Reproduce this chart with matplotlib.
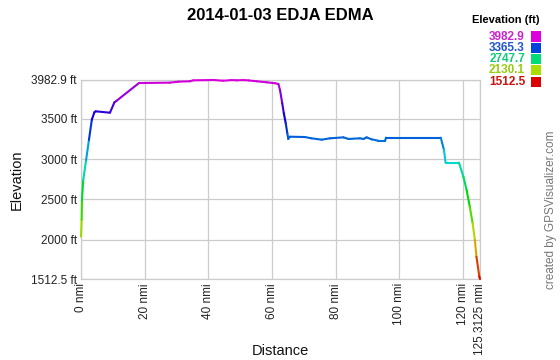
import matplotlib
matplotlib.use("Agg")
import matplotlib.pyplot as plt
import numpy as np
from matplotlib.collections import LineCollection
from matplotlib.colors import LinearSegmentedColormap, Normalize, hsv_to_rgb

plt.rcParams['font.family'] = ['Liberation Sans', 'DejaVu Sans']

title = "2014-01-03 EDJA EDMA"
dist_nmi = [0, 0.2, 0.3, 0.7, 1.6, 2.5, 3.4, 4.2, 4.6, 9.1, 10.5, 11.2, 18.2, 27.9,
            30.6, 34.2, 35.3, 41.6, 44.7, 47.3, 48.9, 51.0, 52.6, 55.2, 58.4, 61.0,
            62.0, 62.5, 63.2, 63.7, 64.3, 64.8, 65.1, 65.6, 70.3, 72.4, 75.6, 78.2,
            82.4, 84.0, 87.6, 88.7, 89.7, 91.3, 93.4, 95.5, 95.8, 113.0, 114.0, 114.5,
            118.7, 120.1, 121.1, 122.1, 123.0, 123.7, 124.2, 125.1, 125.3125]
elev_ft = [2040, 2250, 2490, 2740, 2990, 3240, 3490, 3582, 3594, 3577, 3706, 3726,
           3945, 3950, 3962, 3967, 3979, 3982.9, 3974, 3982, 3979, 3982, 3978, 3967,
           3954, 3942, 3933, 3859, 3694, 3570, 3446, 3321, 3251, 3279, 3275, 3259,
           3242, 3259, 3271, 3251, 3259, 3251, 3271, 3246, 3229, 3229, 3267, 3267,
           3114, 2957, 2957, 2783, 2618, 2411, 2205, 1997, 1790, 1542, 1512.5]

y_ticks = [1512.5, 2000, 2500, 3000, 3500, 3982.9]
y_tick_labels = ["1512.5 ft", "2000 ft", "2500 ft", "3000 ft", "3500 ft", "3982.9 ft"]
x_ticks = [0, 20, 40, 60, 80, 100, 120, 125.3125]
x_tick_labels = ["0 nmi", "20 nmi", "40 nmi", "60 nmi", "80 nmi", "100 nmi", "120 nmi", "125.3125 nmi"]
legend_values = ["3982.9", "3365.3", "2747.7", "2130.1", "1512.5"]
legend_text_colors = ["#cc22cc", "#2255cc", "#11cc77", "#99cc11", "#cc1111"]
legend_box_colors = ["#dd00dd", "#0044dd", "#00dd77", "#aadd00", "#dd0000"]

ymin, ymax = 1512.5, 3982.9
xmin, xmax = 0, 125.3125

# hue colormap: red (low) -> magenta (high)
hues = np.linspace(0, 300 / 360, 256)
cols = hsv_to_rgb(np.stack([hues, np.ones_like(hues), np.full_like(hues, 0.85)], axis=1))
cmap = LinearSegmentedColormap.from_list("elev", cols)
norm = Normalize(ymin, ymax)

fig = plt.figure(figsize=(5.6, 3.6), dpi=100)
ax = fig.add_axes([81 / 560, 1 - 279 / 360, (480 - 81) / 560, (279 - 80) / 360])

x = np.array(dist_nmi)
y = np.array(elev_ft)
pts = np.stack([x, y], axis=1).reshape(-1, 1, 2)
segs = np.concatenate([pts[:-1], pts[1:]], axis=1)
lc = LineCollection(segs, cmap=cmap, norm=norm, linewidths=1.5, capstyle='round', joinstyle='round', zorder=3)
lc.set_array((y[:-1] + y[1:]) / 2)
lc.set_clip_on(False)
ax.add_collection(lc)

ax.set_xlim(xmin, xmax)
ax.set_ylim(ymin, ymax)
ax.set_xticks(x_ticks)
ax.set_xticklabels(x_tick_labels, rotation=90, fontsize=8.5, color="#222222")
ax.set_yticks(y_ticks)
ax.set_yticklabels(y_tick_labels, fontsize=8.5, color="#222222")
ax.tick_params(length=0, pad=3)
ax.grid(True, color="#cccccc", linewidth=0.9)
for s in ax.spines.values():
    s.set_color("#cccccc")
    s.set_linewidth(0.9)

ax.set_ylabel("Elevation", fontsize=10.5, color="#111111")
ax.set_xlabel("Distance", fontsize=10.5, color="#111111")
ax.xaxis.set_label_coords(0.5, (279 - 344) / 199)
ax.yaxis.set_label_coords((24 - 81) / 399, 0.5)

fig.text(280 / 560, 1 - 15 / 360, title, ha="center", va="center", fontsize=12, fontweight="bold")

# legend
fig.text(540 / 560, 1 - 20 / 360, "Elevation (ft)", ha="right", va="center", fontsize=8, fontweight="bold")
for i, (v, tc, bc) in enumerate(zip(legend_values, legend_text_colors, legend_box_colors)):
    yc = 36.5 + i * 11.3
    fig.text(525 / 560, 1 - yc / 360, v, ha="right", va="center", fontsize=8.5, fontweight="bold", color=tc)
    fig.patches.append(plt.Rectangle((531 / 560, 1 - (yc + 5) / 360), 10 / 560, 10 / 360,
                                     transform=fig.transFigure, facecolor=bc, edgecolor="none"))

fig.text(551 / 560, 1 - 210 / 360, "created by GPSVisualizer.com", rotation=90, ha="center", va="center",
         fontsize=8.5, color="#777777")

fig.savefig("out.png", dpi=100)
